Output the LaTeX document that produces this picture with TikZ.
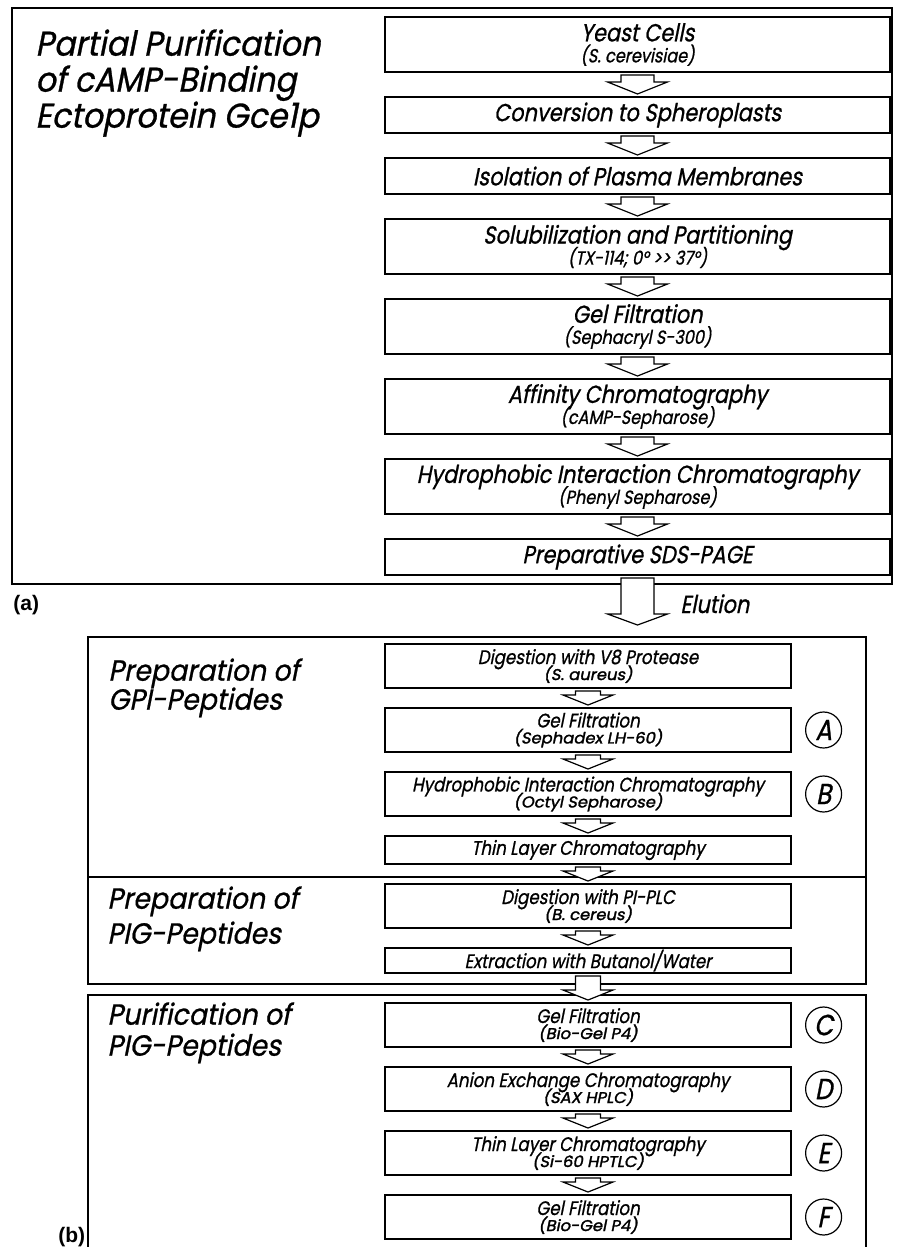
\documentclass[tikz,border=0pt]{standalone}
\usepackage{fontspec}
\setmainfont{Poppins}[FakeSlant=0.2,FakeStretch=0.85,FakeBold=0.9]
\newfontfamily\titlefam{Poppins}[FakeSlant=0.2,FakeStretch=0.92,FakeBold=0.8]
\newfontfamily\subfamB{Poppins}[FakeSlant=0.2,FakeStretch=1.05,FakeBold=1.8]
\newfontfamily\panelfont{Liberation Sans}
\usepackage{tikz}
\usetikzlibrary{positioning,calc}
\setlength{\lineskiplimit}{-20pt}
\newcommand{\boxfontA}{\fontsize{12.3}{10.5}\selectfont}
\newcommand{\subA}{\fontsize{9.5}{10}\selectfont}
\newcommand{\boxfontB}{\fontsize{9.8}{8}\selectfont}
\newcommand{\subB}{\subfamB\fontsize{7.8}{8}\selectfont}
\newcommand{\blockarrow}[5]{%
  \draw[flowarrow] let \p1=#1, \p2=#2 in
    (\x1-#3,\y1-1.5pt) -- (\x1+#3,\y1-1.5pt) -- (\x1+#3,\y2+1.5pt+#5)
    -- (\x1+#4,\y2+1.5pt+#5) -- (\x1,\y2+1.5pt) -- (\x1-#4,\y2+1.5pt+#5)
    -- (\x1-#3,\y2+1.5pt+#5) -- cycle;}
\newcommand{\bigflow}[2]{\blockarrow{(#1.south)}{(#2.north)}{8.25pt}{15pt}{6pt}}
\newcommand{\smallflow}[2]{\blockarrow{(#1.south)}{(#2.north)}{6.25pt}{12.5pt}{5pt}}

\begin{document}
\begin{tikzpicture}[x=1pt,y=1pt,
frame/.style={draw,line width=0.6pt},
boxA/.style={draw,line width=0.55pt,minimum width=252.5pt,inner sep=0pt,outer sep=0pt,align=center,font=\boxfontA},
tallA/.style={boxA,minimum height=27.5pt},
shortA/.style={boxA,minimum height=18pt},
boxB/.style={draw,line width=0.55pt,minimum width=203pt,inner sep=0pt,outer sep=0pt,align=center,font=\boxfontB},
tallB/.style={boxB,minimum height=22pt},
shortB/.style={boxB,minimum height=14pt},
tag/.style={circle,draw,line width=0.6pt,minimum size=18pt,inner sep=0pt,font=\fontsize{14.5}{14.5}\selectfont},
title/.style={anchor=north west,inner sep=0pt,align=left},
panel/.style={anchor=base west,inner sep=0pt,font=\panelfont\bfseries\fontsize{10.5}{10.5}\selectfont},
flowarrow/.style={draw,fill=white,line width=0.6pt,line join=miter}]
\useasboundingbox (0,0) rectangle (451.5,-623.5);
\draw[frame] (6,-4) rectangle (446,-292);
\node[title,font=\titlefam\fontsize{17.2}{18}\selectfont] (ttla) at (17.5,-14.5) {Partial Purification\\of cAMP-Binding\\Ectoprotein Gce1p};
\node[tallA] (yeast) at (318.75,-22.25) {Yeast Cells\\{\subA (S. cerevisiae)}};
\node[shortA,below=12.5pt of yeast] (sphero) {Conversion to Spheroplasts};
\node[shortA,below=12.5pt of sphero] (membr) {Isolation of Plasma Membranes};
\node[tallA,below=12.5pt of membr] (solub) {Solubilization and Partitioning\\{\subA (TX-114; 0° >\kern0pt> 37°)}};
\node[tallA,below=12.5pt of solub] (gelfa) {Gel Filtration\\{\subA (Sephacryl S-300)}};
\node[tallA,below=12.5pt of gelfa] (affin) {Affinity Chromatography\\{\subA (cAMP-Sepharose)}};
\node[tallA,below=12.5pt of affin] (hica) {Hydrophobic Interaction Chromatography\\{\subA (Phenyl Sepharose)}};
\node[shortA,below=12.5pt of hica] (sds) {Preparative SDS-PAGE};
\bigflow{yeast}{sphero}
\bigflow{sphero}{membr}
\bigflow{membr}{solub}
\bigflow{solub}{gelfa}
\bigflow{gelfa}{affin}
\bigflow{affin}{hica}
\bigflow{hica}{sds}
\node[panel] (pa) at (6.5,-305) {(a)};
\draw[frame] (44,-318.5) rectangle (433,-492);
\draw[frame] (44,-438.5) -- (433,-438.5);
\draw[frame] (44,-623.5) -- (44,-497.5) -- (433,-497.5) -- (433,-623.5);
\coordinate (elu) at ($(sds.south)+(0,-26.5)$);
\blockarrow{(sds.south)}{(elu)}{8.25pt}{15pt}{5.5pt}
\node[anchor=base west,inner sep=0pt,font=\boxfontA] (elutxt) at (340,-306.5) {Elution};
\node[title,font=\titlefam\fontsize{14.6}{14.5}\selectfont] (ttlgpi) at (54,-329) {Preparation of\\GPI-Peptides};
\node[title,font=\titlefam\fontsize{14.6}{17.5}\selectfont] (ttlpig) at (53.5,-443) {Preparation of\\PIG-Peptides};
\node[title,font=\titlefam\fontsize{14.6}{15.5}\selectfont] (ttlpur) at (53.5,-501) {Purification of\\PIG-Peptides};
\node[tallB] (vpro) at (294,-333) {Digestion with V8 Protease\\{\subB (S. aureus)}};
\node[tallB,below=10pt of vpro] (gelfb) {Gel Filtration\\{\subB (Sephadex LH-60)}};
\node[tallB,below=10pt of gelfb] (hicb) {Hydrophobic Interaction Chromatography\\{\subB (Octyl Sepharose)}};
\node[shortB,below=10pt of hicb] (tlcb) {Thin Layer Chromatography};
\node[tallB,below=10pt of tlcb] (pplc) {Digestion with PI-PLC\\{\subB (B. cereus)}};
\node[boxB,minimum height=12.5pt,below=10pt of pplc] (extr) {Extraction with Butanol/Water};
\node[tallB,below=15pt of extr] (gelfc) {Gel Filtration\\{\subB (Bio-Gel P4)}};
\node[tallB,below=10pt of gelfc] (anion) {Anion Exchange Chromatography\\{\subB (SAX HPLC)}};
\node[tallB,below=10pt of anion] (tlce) {Thin Layer Chromatography\\{\subB (Si-60 HPTLC)}};
\node[tallB,below=10pt of tlce] (gelff) {Gel Filtration\\{\subB (Bio-Gel P4)}};
\node[tag,right=7pt of gelfb] (tga) {A};
\node[tag,right=7pt of hicb] (tgb) {B};
\node[tag,right=7pt of gelfc] (tgc) {C};
\node[tag,right=7pt of anion] (tgd) {D};
\node[tag,right=7pt of tlce] (tge) {E};
\node[tag,right=7pt of gelff] (tgf) {F};
\smallflow{vpro}{gelfb}
\smallflow{gelfb}{hicb}
\smallflow{hicb}{tlcb}
\smallflow{tlcb}{pplc}
\smallflow{pplc}{extr}
\smallflow{extr}{gelfc}
\smallflow{gelfc}{anion}
\smallflow{anion}{tlce}
\smallflow{tlce}{gelff}
\node[panel] (pb) at (29,-621) {(b)};
\end{tikzpicture}
\end{document}
